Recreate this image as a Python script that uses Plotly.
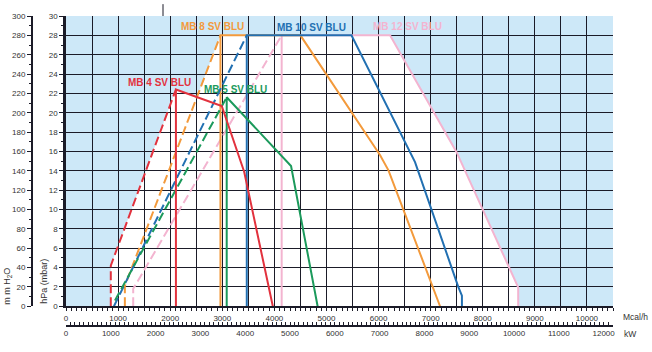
import plotly.graph_objects as go

# ---------------- data (x in Mcal/h, y in hPa) ----------------
red_dash_x = [860, 860, 2110]
red_dash_y = [0, 4.2, 22.4]
red_x = [2110, 2110, 2990, 3420, 3970]
red_y = [0, 22.4, 20.7, 13.9, 0]

orange_dash_x = [1130, 1130, 2965]
orange_dash_y = [0, 2.1, 28]
orange_x = [2965, 2965, 4500, 6030, 6190, 7180]
orange_y = [0, 28, 28, 15.6, 14.05, 0]

blue_dash_x = [920, 3470]
blue_dash_y = [0, 28]
blue_x = [3470, 3470, 5480, 6600, 6700, 7530, 7600, 7600]
blue_y = [0, 28, 28, 16.1, 14.9, 2.0, 1.1, 0]

green_dash_x = [940, 3085]
green_dash_y = [0.6, 21.6]
green_x = [3085, 3085, 4320, 4830]
green_y = [0, 21.6, 14.5, 0]

pink_dash_x = [1290, 1290, 4140]
pink_dash_y = [0, 1.8, 28]
pink_x = [4140, 4140, 6220, 7500, 8520, 8680, 8680]
pink_y = [0, 28, 28, 15.9, 3.85, 1.95, 0]

names = ["MB 4 SV BLU", "MB 8 SV BLU", "MB 10 SV BLU", "MB 5 SV BLU", "MB 12 SV BLU"]
colors = ["#e2323e", "#f39a3c", "#2270b2", "#1c9a5c", "#f3b4d0"]
label_x = [1800, 2820, 4720, 3250, 6560]
label_y = [23.1, 28.9, 28.8, 22.4, 28.9]

series = [
    (red_dash_x, red_dash_y, red_x, red_y),
    (orange_dash_x, orange_dash_y, orange_x, orange_y),
    (blue_dash_x, blue_dash_y, blue_x, blue_y),
    (green_dash_x, green_dash_y, green_x, green_y),
    (pink_dash_x, pink_dash_y, pink_x, pink_y),
]

x_max_mcal = 10500
y_max_hpa = 30
kw_per_mcal = 1 / 0.86

# ---------------- geometry ----------------
W, H = 652, 352
ml, mr, mt, mb = 32, 39, 12, 26
pw = W - ml - mr          # paper width
ph = H - mt - mb          # paper height
x_dom0 = (66 - ml) / pw
y_dom0 = (326 - 306) / ph

fig = go.Figure()

BG = "#cde8f8"
GRID = "#1b1b28"
TXT = "#333333"
FONT = "Liberation Sans, Arial, sans-serif"

shapes = []
# white operating areas (union of each burner's working field)
for dx, dy, sx, sy in series:
    pts = [(dx[0], 0)] + list(zip(dx, dy)) + list(zip(sx[2:], sy[2:]))
    path = "M " + " L ".join(f"{px},{py}" for px, py in pts) + " Z"
    shapes.append(dict(type="path", path=path, xref="x", yref="y",
                       fillcolor="white", line=dict(width=0), layer="below"))

# draw order: pink, orange, blue, green, red
order = [4, 1, 2, 3, 0]
for i in order:
    dx, dy, sx, sy = series[i]
    fig.add_trace(go.Scatter(x=dx, y=dy, mode="lines",
                             line=dict(color=colors[i], width=2, dash="9px,4px"),
                             showlegend=False, hoverinfo="skip"))
    fig.add_trace(go.Scatter(x=sx, y=sy, mode="lines",
                             line=dict(color=colors[i], width=2),
                             showlegend=False, hoverinfo="skip"))

# dummy traces to activate secondary axes
fig.add_trace(go.Scatter(x=[0], y=[0], xaxis="x2", yaxis="y", mode="none",
                         showlegend=False, hoverinfo="skip"))
fig.add_trace(go.Scatter(x=[0], y=[0], xaxis="x", yaxis="y2", mode="none",
                         showlegend=False, hoverinfo="skip"))

annotations = []
for n, c, lx, ly in zip(names, colors, label_x, label_y):
    annotations.append(dict(x=lx, y=ly, xref="x", yref="y", text=f"<b>{n}</b>",
                            showarrow=False, font=dict(color=c, size=10, family=FONT),
                            xanchor="center", yanchor="middle"))

annotations += [
    dict(x=(8 - ml) / pw, y=y_dom0, xref="paper", yref="paper",
         text="m m H<sub>2</sub>O", textangle=-90, showarrow=False,
         xanchor="center", yanchor="bottom", font=dict(size=9, color=TXT, family=FONT)),
    dict(x=(44 - ml) / pw, y=y_dom0, xref="paper", yref="paper",
         text="hPa (mbar)", textangle=-90, showarrow=False,
         xanchor="center", yanchor="bottom", font=dict(size=9, color=TXT, family=FONT)),
    dict(x=(621 - ml) / pw, y=(326 - 316.7) / ph, xref="paper", yref="paper",
         text="Mcal/h", showarrow=False, xanchor="left", yanchor="middle",
         font=dict(size=8.5, color=TXT, family=FONT)),
    dict(x=(622 - ml) / pw, y=(326 - 334.3) / ph, xref="paper", yref="paper",
         text="kW", showarrow=False, xanchor="left", yanchor="middle",
         font=dict(size=8.5, color=TXT, family=FONT)),
]

# small vertical mark above the plot
shapes.append(dict(type="line", xref="x", yref="paper", x0=1862, x1=1862,
                   y0=1, y1=1 + mt / ph, line=dict(color=GRID, width=1)))

xt = list(range(0, x_max_mcal + 1, 500))
xtt = [str(v) if v % 1000 == 0 else " " for v in xt]

fig.update_layout(
    width=W, height=H,
    margin=dict(l=ml, r=mr, t=mt, b=mb),
    paper_bgcolor="white", plot_bgcolor=BG,
    font=dict(family=FONT, size=8, color=TXT),
    shapes=shapes, annotations=annotations,
    xaxis=dict(domain=[x_dom0, 1], range=[0, x_max_mcal], tickvals=xt, ticktext=xtt,
               showgrid=True, gridcolor=GRID, gridwidth=1.3,
               showline=True, linecolor=GRID, linewidth=2,
               ticks="outside", ticklen=3, tickcolor=GRID, tickwidth=1,
               minor=dict(dtick=100, ticks="outside", ticklen=3, tickcolor=GRID, showgrid=False),
               tickfont=dict(size=8, color=TXT), zeroline=False, fixedrange=True),
    xaxis2=dict(domain=[x_dom0, 1], range=[0, x_max_mcal * kw_per_mcal],
                overlaying="x", anchor="free", position=0, side="bottom",
                dtick=1000, tickformat="d", showgrid=False, showline=True,
                linecolor=GRID, linewidth=1.5,
                ticks="inside", ticklen=3, tickcolor=GRID,
                minor=dict(dtick=100, ticks="inside", ticklen=3, tickcolor=GRID),
                tickfont=dict(size=8, color=TXT), zeroline=False, fixedrange=True),
    yaxis=dict(domain=[y_dom0, 1], range=[0, y_max_hpa], dtick=2,
               showgrid=True, gridcolor=GRID, gridwidth=1.3,
               showline=True, linecolor=GRID, linewidth=2.5,
               ticks="outside", ticklen=4, tickcolor=GRID,
               minor=dict(dtick=1, ticks="outside", ticklen=2, tickcolor=GRID, showgrid=False),
               tickfont=dict(size=8, color=TXT), zeroline=False, fixedrange=True),
    yaxis2=dict(range=[0, 300], overlaying="y", anchor="free", position=0, side="left",
                dtick=20, showgrid=False, showline=True, linecolor=GRID, linewidth=2,
                ticks="outside", ticklen=4, tickcolor=GRID,
                minor=dict(dtick=10, ticks="outside", ticklen=2, tickcolor=GRID),
                tickfont=dict(size=8, color=TXT), zeroline=False, fixedrange=True),
)

fig.write_html("out.html")
